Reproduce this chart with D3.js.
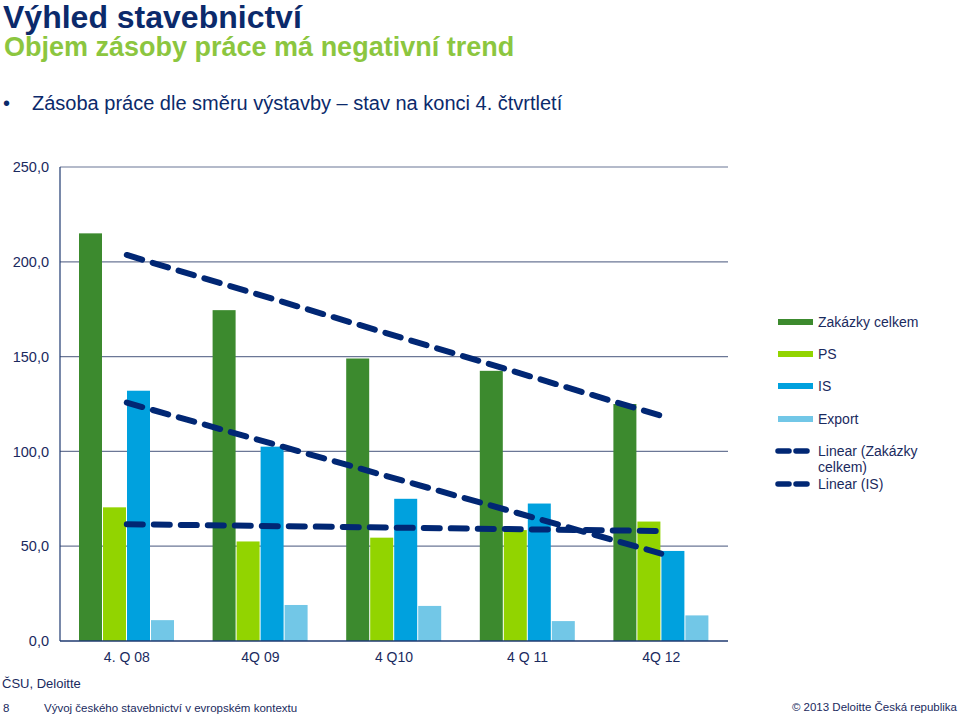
<!DOCTYPE html>
<html><head><meta charset="utf-8">
<script src="https://cdn.jsdelivr.net/npm/d3@7"></script>
<style>
html,body{margin:0;padding:0;background:#fff;}
svg{display:block;font-family:"Liberation Sans",Arial,sans-serif;}
</style></head>
<body>
<svg id="c" width="960" height="719"></svg>
<script>
const categories = ["4. Q 08","4Q 09","4 Q10","4 Q 11","4Q 12"];
const seriesNames = ["Zakázky celkem","PS","IS","Export"];
const zakazky = [215, 174.5, 149, 142.5, 125];
const ps = [70.5, 52.5, 54.5, 58.5, 63];
const is_ = [132, 102.5, 75, 72.5, 47.5];
const exportV = [11, 19, 18.5, 10.5, 13.5];
const yTicks = [0, 50, 100, 150, 200, 250];
const colors = ["#3c8a2e", "#92d400", "#00a1de", "#72c7e7"];
const trendColor = "#012774";

const seriesVals = [zakazky, ps, is_, exportV];
const svg = d3.select("#c");

// Titles
svg.append("text").attr("x",3).attr("y",28).attr("font-size",32).attr("font-weight","bold").attr("fill","#0b2a6b").text("Výhled stavebnictví");
svg.append("text").attr("x",4).attr("y",56).attr("font-size",27).attr("font-weight","bold").attr("fill","#8cc63f").text("Objem zásoby práce má negativní trend");
svg.append("text").attr("x",3).attr("y",110).attr("font-size",20).attr("fill","#0b2a6b").text("•");
svg.append("text").attr("x",32).attr("y",110).attr("font-size",20).attr("fill","#0b2a6b").text("Zásoba práce dle směru výstavby – stav na konci 4. čtvrtletí");

const x0 = 60, x1 = 728, yTop = 167, yBot = 641;
const x = d3.scaleBand().domain(categories).range([x0, x1]).paddingInner(0).paddingOuter(0);
const y = d3.scaleLinear().domain([0, 250]).range([yBot, yTop]);
const inner = d3.scaleBand().domain(seriesNames).range([19, 19 + 96]);

// grid
const g = svg.append("g");
g.selectAll("line.grid").data(yTicks.filter(d=>d>0)).join("line")
  .attr("x1", x0).attr("x2", x1).attr("y1", d=>y(d)).attr("y2", d=>y(d))
  .attr("stroke", "#6b7796").attr("stroke-width", 1.2);

// Bars
seriesNames.forEach((s, si) => {
  g.selectAll("rect.s"+si).data(categories).join("rect")
    .attr("x", c => x(c) + inner(s))
    .attr("width", inner.bandwidth() - 1)
    .attr("y", (c, i) => y(seriesVals[si][i]))
    .attr("height", (c, i) => yBot - y(seriesVals[si][i]))
    .attr("fill", colors[si]);
});

// Axes lines
g.append("line").attr("x1", x0).attr("x2", x0).attr("y1", yTop).attr("y2", yBot).attr("stroke", "#1f3a70").attr("stroke-width", 1.2);
g.append("line").attr("x1", x0).attr("x2", x1).attr("y1", yBot).attr("y2", yBot).attr("stroke", "#1f3a70").attr("stroke-width", 1.5);

// Y axis labels
const yAxis = d3.axisLeft(y).tickValues(yTicks).tickSize(0).tickPadding(11)
  .tickFormat(d => d3.format(".1f")(d).replace(".", ","));
const ya = svg.append("g").attr("transform", `translate(${x0},0)`).call(yAxis);
ya.select(".domain").remove();
ya.selectAll("text").attr("font-size", 14.5).attr("fill", "#1a2a5e").attr("font-family", "Liberation Sans, Arial, sans-serif");

// X axis labels
const xAxis = d3.axisBottom(x).tickSize(0).tickPadding(11);
const xa = svg.append("g").attr("transform", `translate(0,${yBot})`).call(xAxis);
xa.select(".domain").remove();
xa.selectAll("text").attr("font-size", 14).attr("fill", "#1a2a5e").attr("font-family", "Liberation Sans, Arial, sans-serif");

// Linear trends (least squares)
function linfit(vals) {
  const n = vals.length, xs = vals.map((_, i) => i + 1);
  const mx = d3.mean(xs), my = d3.mean(vals);
  const b = d3.sum(xs.map((xi, i) => (xi - mx) * (vals[i] - my))) / d3.sum(xs.map(xi => (xi - mx) ** 2));
  const a = my - b * mx;
  return [a + b * 1, a + b * n];
}
const cx = c => x(c) + x.bandwidth() / 2;
[zakazky, is_, ps].forEach(vals => {
  const [v1, v2] = linfit(vals);
  svg.append("line")
    .attr("x1", cx(categories[0])).attr("y1", y(v1))
    .attr("x2", cx(categories[categories.length - 1])).attr("y2", y(v2))
    .attr("stroke", trendColor).attr("stroke-width", 6)
    .attr("stroke-dasharray", "16,11").attr("stroke-linecap", "round");
});

// Legend
const lg = svg.append("g");
const legY = [322, 354, 386, 419];
seriesNames.forEach((s, i) => {
  lg.append("rect").attr("x", 778).attr("y", legY[i] - 3).attr("width", 35).attr("height", 6).attr("fill", colors[i]);
  lg.append("text").attr("x", 818).attr("y", legY[i] + 5).attr("font-size", 14).attr("fill", "#1a2a5e").text(s);
});
const trendLeg = [{y:451, lines:["Linear (Zakázky","celkem)"]}, {y:484, lines:["Linear (IS)"]}];
trendLeg.forEach(t => {
  lg.append("line").attr("x1", 778).attr("x2", 813).attr("y1", t.y).attr("y2", t.y)
    .attr("stroke", trendColor).attr("stroke-width", 5.5).attr("stroke-dasharray", "11,7").attr("stroke-linecap", "round");
  t.lines.forEach((l, j) => {
    lg.append("text").attr("x", 818).attr("y", t.y + 5 + j * 16).attr("font-size", 14).attr("fill", "#1a2a5e").text(l);
  });
});

// Footer
svg.append("text").attr("x", 2).attr("y", 688).attr("font-size", 13).attr("fill", "#1a2a5e").text("ČSU, Deloitte");
svg.append("text").attr("x", 3).attr("y", 712).attr("font-size", 11.5).attr("fill", "#1a2a5e").text("8");
svg.append("text").attr("x", 44).attr("y", 712).attr("font-size", 11.5).attr("fill", "#1a2a5e").text("Vývoj českého stavebnictví v evropském kontextu");
svg.append("text").attr("x", 957).attr("y", 711).attr("font-size", 11.5).attr("text-anchor", "end").attr("fill", "#1a2a5e").text("© 2013 Deloitte Česká republika");
</script>
</body></html>
